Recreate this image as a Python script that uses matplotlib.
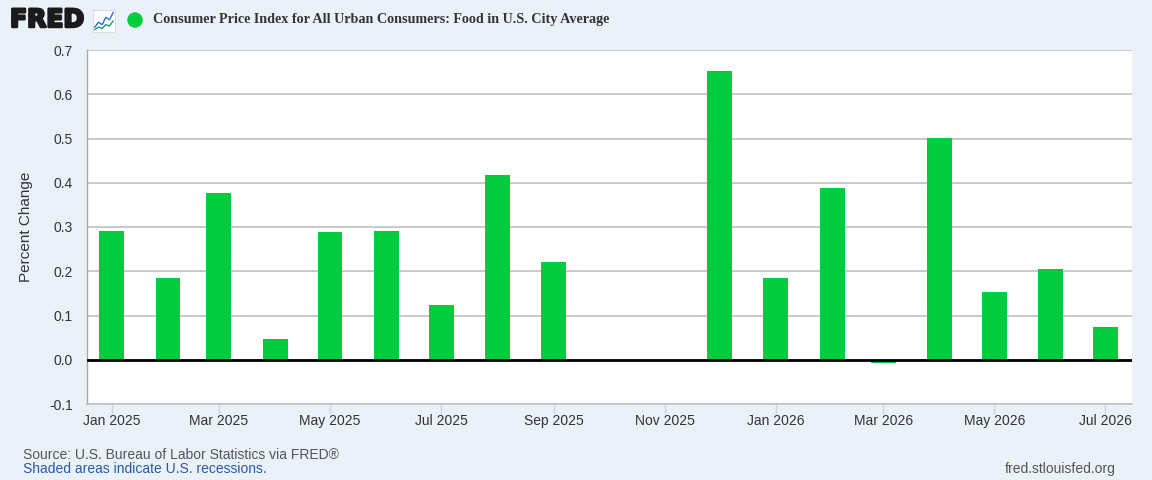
import datetime as dt
import matplotlib
matplotlib.use('Agg')
import matplotlib.pyplot as plt
import matplotlib.dates as mdates
import matplotlib.patheffects as pe
from matplotlib.patches import Ellipse

# Monthly percent change, CPI-U Food (Oct/Nov 2025 not published)
months = ['2025-01', '2025-02', '2025-03', '2025-04', '2025-05', '2025-06',
          '2025-07', '2025-08', '2025-09', '2025-10', '2025-11', '2025-12',
          '2026-01', '2026-02', '2026-03', '2026-04', '2026-05', '2026-06',
          '2026-07']
values = [0.290, 0.184, 0.376, 0.047, 0.288, 0.292,
          0.123, 0.418, 0.222, None, None, 0.653,
          0.184, 0.389, -0.008, 0.502, 0.154, 0.204,
          0.075]
tick_months = ['2025-01', '2025-03', '2025-05', '2025-07', '2025-09', '2025-11',
               '2026-01', '2026-03', '2026-05', '2026-07']
yticks = [-0.1, 0.0, 0.1, 0.2, 0.3, 0.4, 0.5, 0.6, 0.7]

title = 'Consumer Price Index for All Urban Consumers: Food in U.S. City Average'
bg = '#eaf1f9'
green = '#00cc3f'

plt.rcParams['font.family'] = ['Liberation Sans', 'DejaVu Sans']

fig = plt.figure(figsize=(11.52, 4.8), dpi=100, facecolor=bg)
ax = fig.add_axes([87 / 1152, 1 - 404 / 480, (1132 - 87) / 1152, (404 - 50) / 480])
ax.set_facecolor('white')

def to_date(m):
    y, mo = m.split('-')
    return dt.datetime(int(y), int(mo), 1)

xs = [to_date(m) for m, v in zip(months, values) if v is not None]
ys = [v for v in values if v is not None]
ax.bar(xs, ys, width=13.7, color=green, zorder=3)

ax.set_xlim(to_date('2025-01') - dt.timedelta(days=13.5),
            to_date('2026-07') + dt.timedelta(days=14.6))
ax.set_ylim(-0.1, 0.7)
ax.set_yticks(yticks)
ax.set_yticklabels(['%.1f' % t for t in yticks])
ax.yaxis.grid(True, color='#c0c0c0', linewidth=1.2, zorder=0)
ax.axhline(0, color='black', linewidth=2, zorder=4)

ax.set_xticks([to_date(m) for m in tick_months])
ax.xaxis.set_major_formatter(mdates.DateFormatter('%b %Y'))

ax.tick_params(axis='y', length=0, labelsize=10, labelcolor='#333333', pad=10)
ax.tick_params(axis='x', length=7, width=1, color='#ccd6eb', labelsize=10,
               labelcolor='#333333', pad=0)

for side in ['top', 'right']:
    ax.spines[side].set_visible(False)
ax.spines['left'].set_color('#a8a8a8')
ax.spines['left'].set_linewidth(1)
ax.spines['bottom'].set_color('#c0c0c0')
ax.spines['bottom'].set_linewidth(1.2)

ax.set_ylabel('Percent Change', fontsize=11, color='#333333')
ax.yaxis.set_label_coords(-0.052, 0.5)

# header: FRED logo, legend dot and title
fig.text(10 / 1152, 1 - 20 / 480, 'FRED', fontsize=18, fontweight='bold',
         family='DejaVu Sans', color='#1a1a1a', va='center', ha='left',
         path_effects=[pe.withStroke(linewidth=1.8, foreground='#1a1a1a')])
icon = fig.add_axes([93 / 1152, 1 - 32 / 480, 22 / 1152, 22 / 480])
icon.set_facecolor('white')
icon.plot([0, 1, 2, 3, 4, 5], [2, 4, 3, 6, 5, 8], color='#2a6fdb', linewidth=1)
icon.plot([0, 1, 2, 3, 4, 5], [1, 2, 1.5, 3, 2.5, 4.5], color='#1a9a6a', linewidth=1)
icon.set_xlim(-0.5, 5.5)
icon.set_ylim(0, 9)
icon.set_xticks([])
icon.set_yticks([])
for s in icon.spines.values():
    s.set_color('#dddddd')

fig.add_artist(Ellipse((135 / 1152, 1 - 20 / 480), 14 / 1152, 14 / 480,
                       transform=fig.transFigure, color=green, zorder=5))
fig.text(153 / 1152, 1 - 20 / 480, title, fontsize=10.2, fontweight='bold',
         family=['Liberation Serif', 'DejaVu Serif'], color='#333333',
         va='center', ha='left')

# footer
fig.text(23 / 1152, 1 - 455 / 480, 'Source: U.S. Bureau of Labor Statistics via FRED\u00ae',
         fontsize=10, color='#555555', va='center', ha='left')
fig.text(23 / 1152, 1 - 469 / 480, 'Shaded areas indicate U.S. recessions.',
         fontsize=10, color='#2a5aa0', va='center', ha='left')
fig.text(1116 / 1152, 1 - 469 / 480, 'fred.stlouisfed.org',
         fontsize=10, color='#555555', va='center', ha='right')

plt.savefig('out.png', dpi=100, facecolor=bg)
plt.close()
